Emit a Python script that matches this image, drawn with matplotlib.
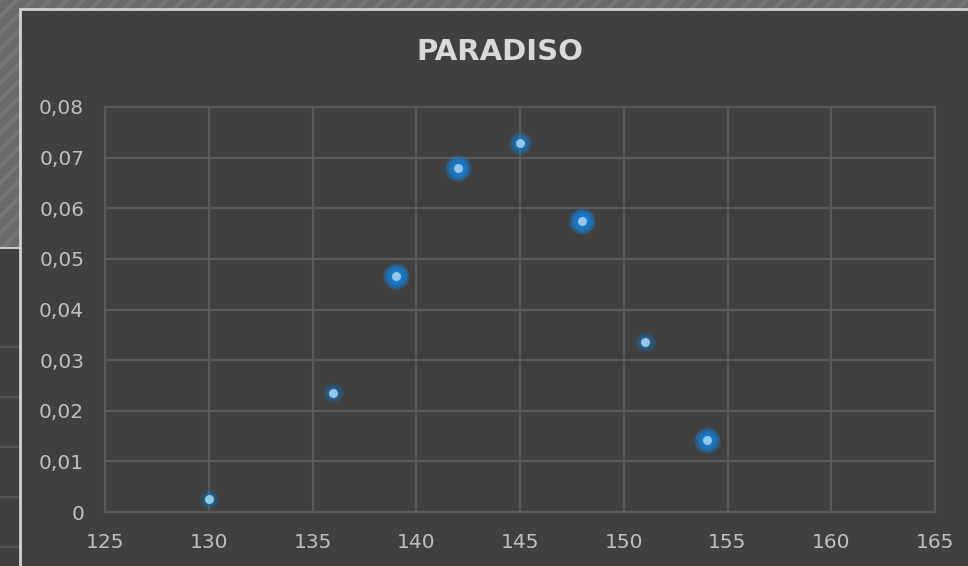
import numpy as np
import matplotlib.pyplot as plt
from matplotlib.patches import Rectangle
from matplotlib.lines import Line2D
from matplotlib.ticker import FuncFormatter, MultipleLocator

# Data
x_values = [130, 136, 139, 142, 145, 148, 151, 154]
y_values = [0.0025, 0.0236, 0.0467, 0.0680, 0.0729, 0.0575, 0.0335, 0.0143]
x_ticks = [125, 130, 135, 140, 145, 150, 155, 160, 165]
title_text = "PARADISO"

# Halo style per marker (strength, outer diameter in px)
halo_strength = [0.3, 0.35, 1.0, 1.0, 0.55, 1.0, 0.35, 0.9]
halo_size = [20, 21, 27, 27, 24, 27, 21, 27]

W, H = 968, 566
fig = plt.figure(figsize=(W / 100, H / 100), dpi=100)
plt.rcParams['hatch.linewidth'] = 3.0


def fx(px):
    return px / W


def fy(py):
    return 1 - py / H


# Striped backdrop
fig.patches.append(Rectangle((0, 0), 1, 1, transform=fig.transFigure,
                             facecolor='#6a6a6a', edgecolor='#767676',
                             hatch='//', linewidth=0, zorder=0))

# Table strip at the lower left
fig.patches.append(Rectangle((0, 0), fx(20), fy(248), transform=fig.transFigure,
                             facecolor='#404040', edgecolor='none', zorder=1))
fig.lines.append(Line2D([0, fx(20)], [fy(248), fy(248)], transform=fig.transFigure,
                        color='#c8c8c8', lw=1.5, zorder=2))
for ly in [347, 397, 447, 497, 547]:
    fig.lines.append(Line2D([0, fx(20)], [fy(ly), fy(ly)], transform=fig.transFigure,
                            color='#555555', lw=1.5, zorder=2))

# Chart panel
fig.patches.append(Rectangle((fx(20), -0.05), 1.0, fy(9) + 0.05, transform=fig.transFigure,
                             facecolor='#404040', edgecolor='#d2d2d2', linewidth=2.0,
                             zorder=3))

ax = fig.add_axes([fx(105), fy(512), fx(935) - fx(105), fy(107) - fy(512)])
ax.set_facecolor('none')
ax.set_zorder(5)
ax.set_xlim(125, 165)
ax.set_ylim(0, 0.08)
ax.set_xticks(x_ticks)
ax.yaxis.set_major_locator(MultipleLocator(0.01))

grid_c = '#5a5a5a'
ax.grid(True, color=grid_c, lw=1.6)
ax.set_axisbelow(True)
for sp in ax.spines.values():
    sp.set_color(grid_c)
    sp.set_linewidth(1.6)


def yfmt(v, _):
    if abs(v) < 1e-9:
        return "0"
    return f"{v:.2f}".replace('.', ',')


ax.yaxis.set_major_formatter(FuncFormatter(yfmt))
ax.tick_params(axis='both', length=0, colors='#c0c0c0', labelsize=14.5)
ax.tick_params(axis='y', pad=15)
ax.tick_params(axis='x', pad=15)

# Markers with blue halo
px_to_pt = 72 / 100
for xv, yv, k, d in zip(x_values, y_values, halo_strength, halo_size):
    n = 16
    for dd in np.linspace(d, 9, n):
        s = (dd * px_to_pt) ** 2
        ax.scatter([xv], [yv], s=s, color='#1686e0', alpha=0.14 * k,
                   linewidths=0, zorder=6, clip_on=False)
ax.scatter(x_values, y_values, s=(9 * px_to_pt) ** 2, color='#93c6e8',
           linewidths=0, zorder=7, clip_on=False)

fig.text(fx(500), fy(52), title_text, ha='center', va='center',
         color='#d9d9d9', fontsize=21, fontweight='bold', zorder=10)

fig.savefig('out.png', dpi=100)
